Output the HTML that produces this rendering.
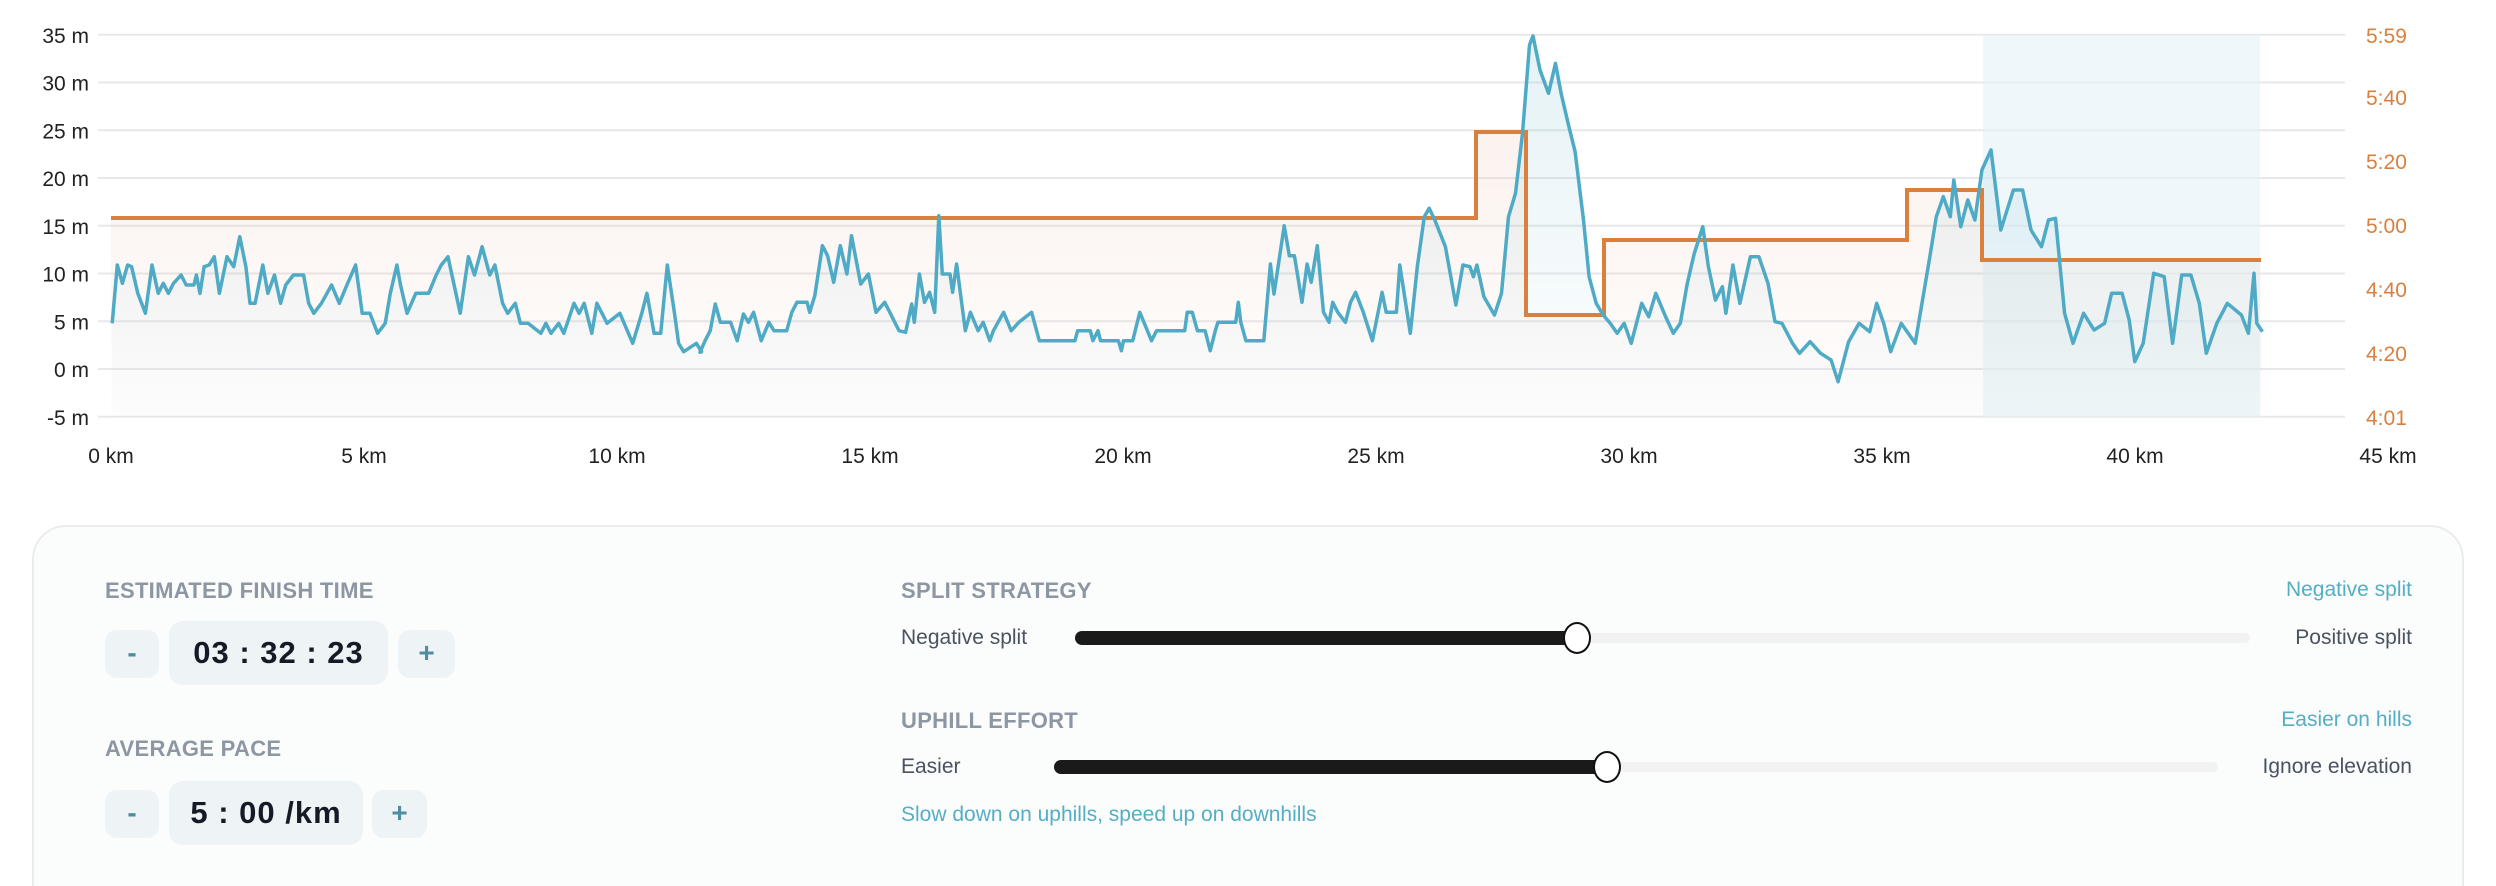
<!DOCTYPE html>
<html><head><meta charset="utf-8">
<style>
html,body{margin:0;padding:0;background:#fff;width:2496px;height:884px;overflow:hidden;font-family:"Liberation Sans",sans-serif;}
svg{position:absolute;left:0;top:0;}
.panel{position:absolute;left:32px;top:525px;width:2428px;height:359px;border:2px solid #ececec;border-bottom:0;border-radius:34px 34px 0 0;background:#fbfcfc;}
.hd{position:absolute;font-size:22px;font-weight:bold;color:#8d96a3;letter-spacing:0.3px;}
.lab{position:absolute;font-size:21px;color:#4a5260;}
.teal{position:absolute;font-size:21px;color:#55aec4;}
.btn{position:absolute;background:#eef3f5;border-radius:12px;color:#4f8da0;font-size:28px;font-weight:bold;text-align:center;}
.box{position:absolute;background:#eef3f5;border-radius:14px;color:#151b26;font-size:31px;font-weight:bold;text-align:center;letter-spacing:1px;}
.track{position:absolute;height:10px;border-radius:5px;background:#f2f2f2;}
.fill{position:absolute;height:14px;border-radius:7px;background:#1a1a1a;}
.knob{position:absolute;width:24px;height:28px;border:2.5px solid #111;border-radius:50%;background:#fff;}
</style></head><body>
<svg id="ch" width="2496" height="520" xmlns="http://www.w3.org/2000/svg">
<defs>
<linearGradient id="gb" x1="0" y1="0" x2="0" y2="1"><stop offset="0" stop-color="#5aaec4" stop-opacity="0.16"/><stop offset="1" stop-color="#5aaec4" stop-opacity="0.01"/></linearGradient>
<linearGradient id="go" x1="0" y1="0" x2="0" y2="1"><stop offset="0" stop-color="#e9b9a0" stop-opacity="0.18"/><stop offset="1" stop-color="#e9b9a0" stop-opacity="0.02"/></linearGradient>
</defs>
<g id="grid" stroke="#e8e8ea" stroke-width="2"></g>
<rect x="1983" y="35" width="277" height="382" fill="#e4f2f6" opacity="0.6"/>
<path id="ofill" fill="url(#go)"/>
<path id="bfill" fill="url(#gb)"/>
<path id="oline" fill="none" stroke="#d9803f" stroke-width="4"/>
<path id="bline" fill="none" stroke="#4faac6" stroke-width="3.5" stroke-linejoin="round"/>
<g id="lbl" font-family="Liberation Sans, sans-serif" font-size="21"></g>
</svg>
<div class="panel"></div>
<div class="hd" style="left:105px;top:578px">ESTIMATED FINISH TIME</div>
<div class="btn" style="left:105px;top:630px;width:54px;height:48px;line-height:46px">-</div>
<div class="box" style="left:169px;top:621px;width:219px;height:64px;line-height:64px">03 : 32 : 23</div>
<div class="btn" style="left:398px;top:630px;width:57px;height:48px;line-height:46px">+</div>
<div class="hd" style="left:105px;top:736px">AVERAGE PACE</div>
<div class="btn" style="left:105px;top:790px;width:54px;height:48px;line-height:46px">-</div>
<div class="box" style="left:169px;top:781px;width:194px;height:64px;line-height:64px">5 : 00 /km</div>
<div class="btn" style="left:372px;top:790px;width:55px;height:48px;line-height:46px">+</div>

<div class="hd" style="left:901px;top:578px">SPLIT STRATEGY</div>
<div class="teal" style="right:84px;top:578px">Negative split</div>
<div class="lab" style="left:901px;top:626px">Negative split</div>
<div class="track" style="left:1075px;top:633px;width:1175px"></div>
<div class="fill" style="left:1075px;top:631px;width:505px"></div>
<div class="knob" style="left:1563px;top:622px"></div>
<div class="lab" style="right:84px;top:626px">Positive split</div>

<div class="hd" style="left:901px;top:708px">UPHILL EFFORT</div>
<div class="teal" style="right:84px;top:708px">Easier on hills</div>
<div class="lab" style="left:901px;top:755px">Easier</div>
<div class="track" style="left:1054px;top:762px;width:1164px"></div>
<div class="fill" style="left:1054px;top:760px;width:556px"></div>
<div class="knob" style="left:1593px;top:751px"></div>
<div class="lab" style="right:84px;top:755px">Ignore elevation</div>
<div class="teal" style="left:901px;top:803px">Slow down on uphills, speed up on downhills</div>

<script>
var NS="http://www.w3.org/2000/svg";
function X(km){return 111+50.6*km;}
function Y(m){return 369-9.55*m;}
var g=document.getElementById('grid'),lb=document.getElementById('lbl');
var pace=["5:59","5:40","5:20","5:00","4:40","4:20","4:01"];
for(var i=0;i<9;i++){var m=35-5*i,y=Y(m);
 var l=document.createElementNS(NS,'line');l.setAttribute('x1',98);l.setAttribute('x2',2345);l.setAttribute('y1',y);l.setAttribute('y2',y);g.appendChild(l);
 var t=document.createElementNS(NS,'text');t.setAttribute('x',89);t.setAttribute('y',y+8);t.setAttribute('text-anchor','end');t.setAttribute('fill','#222');t.textContent=m+' m';lb.appendChild(t);}
var py=[35,97,161,225,289,353,417];
for(var i=0;i<7;i++){var t=document.createElementNS(NS,'text');t.setAttribute('x',2366);t.setAttribute('y',py[i]+8);t.setAttribute('fill','#d9803f');t.textContent=pace[i];lb.appendChild(t);}
for(var k=0;k<=45;k+=5){var t=document.createElementNS(NS,'text');t.setAttribute('x',X(k));t.setAttribute('y',463);t.setAttribute('text-anchor','middle');t.setAttribute('fill','#222');t.textContent=k+' km';lb.appendChild(t);}
var pts=[];
var z1=[220,970,230,795,240,850,250,795,258,800,270,880,285,940,298,795,310,880,320,850,330,880,340,850,355,825,365,855,380,855,385,825,392,880,400,800,410,795,420,770,430,880,445,770,458,800,470,710,482,800,490,910,500,910,515,795,525,880,538,825,550,910,560,855,575,825,595,825,605,910,615,940,630,910,650,855,665,910,680,855,697,795,710,940,725,940,740,1000,755,970,765,880,778,795,785,855,798,940,815,880,840,880,855,825,865,795,878,770,890,855,902,940,918,770,930,825,945,740,960,825,970,795,985,910,995,940,1010,910,1020,970,1035,970,1060,1000,1070,970,1080,1000,1095,970,1105,1000,1125,910,1135,940,1145,910,1160,1000,1170,910,1180,940,1190,970,1215,940,1240,1030,1258,940,1268,880,1282,1000,1295,1000,1308,795,1322,940,1330,1030,1340,1055,1365,1030,1375,1055];
for(var i=0;i<z1.length;i+=2)pts.push([(z1[i]/1.96-111)/50.6,(1107-z1[i+1])/28.65]);
var z4=[0,610,10,575,20,545,30,465,40,520,60,520,73,575,85,495,95,520,105,490,120,575,135,520,145,545,170,545,180,490,190,460,210,460,215,490,225,440,240,290,250,320,262,400,275,290,288,375,297,260,315,405,330,375,345,490,362,460,372,490,390,545,403,550,415,465,420,520,430,375,440,460,450,430,460,490,468,200,475,375,490,375,495,430,503,345,520,545,530,490,545,545,555,520,568,575,575,545,595,490,610,545,625,520,650,490,665,575,735,575,740,545,765,545,770,575,780,545,785,575,820,575,826,605,830,575,848,575,862,490,885,575,895,545,950,545,955,490,965,490,975,545,990,545,1000,605,1010,545,1015,520,1050,520,1055,460,1060,520,1070,575,1105,575,1118,345,1125,435,1145,230,1155,320,1165,320,1180,460,1190,345,1198,400,1210,290,1222,490,1233,520,1240,460,1250,490,1265,520,1275,460,1285,430,1300,490,1318,575,1337,430,1345,490,1365,490,1375,345,1385,490,1398,550,1412,200,1430,175,1445,235,1455,260,1478,465,1490,345,1505,345,1512,375,1520,345,1532,430,1540,400,1550,490];
for(var i=0;i<z4.length;i+=2){var km=(589+z4[i]/1.96)/50.6;if(km<25.42)pts.push([km,(660-z4[i+1])/28.65]);}
var z5=[0,795,15,1000,25,800,35,650,42,625,50,660,65,740,80,915,90,795,100,800,105,830,110,795,120,890,135,945,145,880,155,650,165,580,175,400,185,135,190,108,200,210,212,280,222,190,230,280,240,370,250,455,262,660,270,830,280,910,290,945,300,970,310,1000,320,970,330,1030,345,910,355,950,365,880,380,955,390,1000,400,970,410,850,420,760,432,680,440,800,450,900,460,860,465,940,475,795,485,910,500,770,512,770,525,850,535,965,545,970,560,1030,570,1060,585,1025,600,1060,615,1080,625,1145,640,1025,655,970,670,995,680,910,690,970,700,1055,715,970,735,1030,755,780,765,650,775,590,785,650,790,540,800,680,810,600,820,660,830,510,843,450,857,690,875,570,888,570,900,690,915,740,925,660,935,655,948,940,960,1030,975,940,990,990,1005,970,1015,880,1030,880,1040,960,1048,1085,1060,1030,1075,820,1090,830,1102,1030,1115,825,1128,825,1140,910,1150,1060,1165,970,1180,910,1200,945,1210,1000,1218,820,1222,970,1230,995];
for(var i=0;i<z5.length;i+=2)pts.push([25.47+z5[i]*0.01386,(1107-z5[i+1])/28.65]);
var d='';for(var i=0;i<pts.length;i++){d+=(i?'L':'M')+X(pts[i][0]).toFixed(1)+' '+Y(pts[i][1]).toFixed(1);}
document.getElementById('bline').setAttribute('d',d);
var last=pts[pts.length-1];
document.getElementById('bfill').setAttribute('d',d+'L'+X(last[0]).toFixed(1)+' 417L'+X(pts[0][0]).toFixed(1)+' 417Z');
var od='M111 218H1476V132H1526V315H1604V240H1907V190H1982V260H2261';
document.getElementById('oline').setAttribute('d',od);
document.getElementById('ofill').setAttribute('d',od+'V417H111Z');
</script>
</body></html>
